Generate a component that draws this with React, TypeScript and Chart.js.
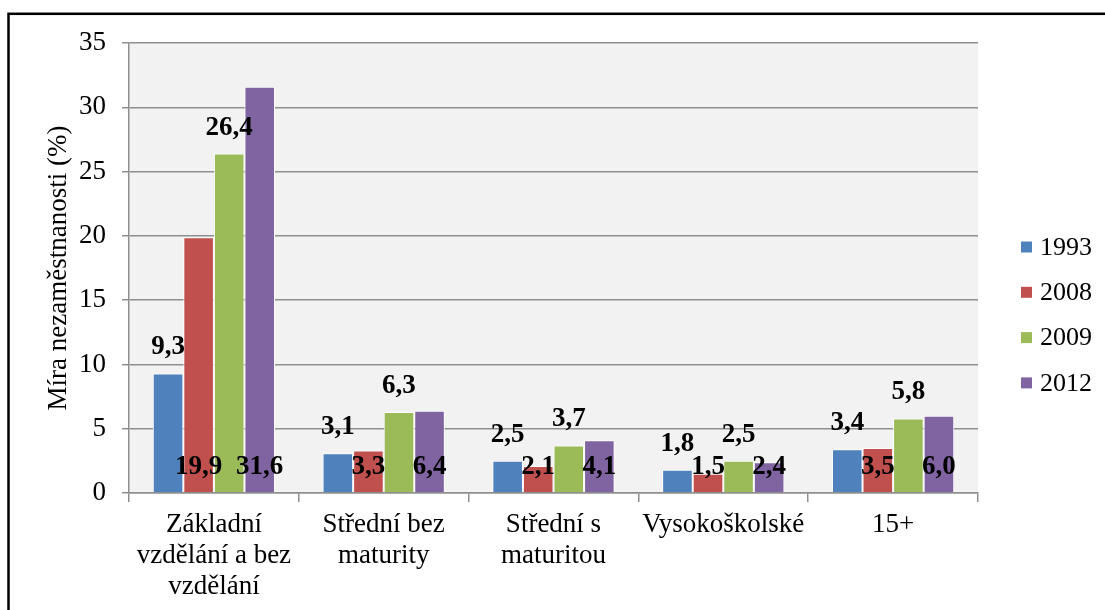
import React, { useEffect, useRef } from "react";
import { Chart, registerables } from "chart.js";

Chart.register(...registerables);

const categories: (string | string[])[] = [
  ["Základní", "vzdělání a bez", "vzdělání"],
  ["Střední bez", "maturity"],
  ["Střední s", "maturitou"],
  "Vysokoškolské",
  "15+",
];
const seriesNames = ["1993", "2008", "2009", "2012"];
const values1993 = [9.3, 3.1, 2.5, 1.8, 3.4];
const values2008 = [19.9, 3.3, 2.1, 1.5, 3.5];
const values2009 = [26.4, 6.3, 3.7, 2.5, 5.8];
const values2012 = [31.6, 6.4, 4.1, 2.4, 6.0];
const seriesColors = ["#4F81BD", "#C0504D", "#9BBB59", "#8064A2"];
const labelPlacement = ["end", "base", "end", "base"];
const yMin = 0;
const yMax = 35;
const yStep = 5;
const yTitle = "Míra nezaměstnanosti (%)";

const FONT = '"Liberation Serif", "Times New Roman", serif';
const GRID = "#8f8f8f";

const bgPlugin = {
  id: "bgPlugin",
  beforeDraw(chart: any) {
    const { ctx, chartArea } = chart;
    ctx.save();
    ctx.fillStyle = "#ffffff";
    ctx.fillRect(0, 0, chart.width, chart.height);
    ctx.strokeStyle = "#000000";
    ctx.lineWidth = 2.5;
    ctx.strokeRect(8.5, 13.8, 1300, 800);
    ctx.fillStyle = "#F2F2F2";
    ctx.fillRect(chartArea.left, chartArea.top, chartArea.right - chartArea.left, chartArea.bottom - chartArea.top);
    ctx.restore();
  },
};

const labelPlugin = {
  id: "labelPlugin",
  afterDatasetsDraw(chart: any) {
    const { ctx } = chart;
    ctx.save();
    ctx.font = `bold 27px ${FONT}`;
    ctx.fillStyle = "#000000";
    ctx.textAlign = "center";
    ctx.textBaseline = "middle";
    chart.data.datasets.forEach((ds: any, i: number) => {
      const meta = chart.getDatasetMeta(i);
      meta.data.forEach((el: any, j: number) => {
        const v = ds.data[j] as number;
        const text = v.toFixed(1).replace(".", ",");
        const y = labelPlacement[i] === "end" ? el.y - 26 : el.base - 25;
        ctx.fillText(text, el.x, y);
      });
    });
    ctx.restore();
  },
};

const legendPlugin = {
  id: "legendPlugin",
  afterDraw(chart: any) {
    const { ctx } = chart;
    ctx.save();
    ctx.font = `26px ${FONT}`;
    ctx.textAlign = "left";
    ctx.textBaseline = "middle";
    chart.data.datasets.forEach((ds: any, i: number) => {
      const cy = 247 + i * 45.3;
      ctx.fillStyle = ds.backgroundColor;
      ctx.fillRect(1021, cy - 5.5, 11, 11);
      ctx.fillStyle = "#000000";
      ctx.fillText(ds.label, 1040, cy + 1);
    });
    ctx.restore();
  },
};

export default function App() {
  const ref = useRef<HTMLCanvasElement | null>(null);
  useEffect(() => {
    if (!ref.current) return;
    const allValues = [values1993, values2008, values2009, values2012];
    const chart = new Chart(ref.current, {
      type: "bar",
      data: {
        labels: categories as any,
        datasets: seriesNames.map((name, i) => ({
          label: name,
          data: allValues[i],
          backgroundColor: seriesColors[i],
          borderColor: "#ffffff",
          borderWidth: 1,
          categoryPercentage: 0.72,
          barPercentage: 1,
        })),
      },
      options: {
        responsive: false,
        animation: false,
        events: [],
        layout: { padding: { top: 43, right: 127, bottom: 0, left: 0 } },
        plugins: {
          legend: { display: false },
          tooltip: { enabled: false },
        },
        scales: {
          x: {
            grid: {
              display: true,
              drawOnChartArea: false,
              drawTicks: true,
              tickLength: 9,
              color: GRID,
              lineWidth: 1.5,
            },
            border: { color: GRID, width: 1.5 },
            ticks: {
              color: "#000000",
              font: { family: FONT, size: 27, lineHeight: 1.15 },
              padding: 7,
              maxRotation: 0,
              autoSkip: false,
            },
            afterFit(scale: any) {
              scale.height = 117;
            },
          },
          y: {
            min: yMin,
            max: yMax,
            ticks: {
              stepSize: yStep,
              color: "#000000",
              font: { family: FONT, size: 27 },
              padding: 16,
            },
            grid: {
              color: GRID,
              lineWidth: 1.5,
              tickLength: 7,
            },
            border: { color: GRID, width: 1.5 },
            title: {
              display: true,
              text: yTitle,
              color: "#000000",
              font: { family: FONT, size: 27 },
              padding: { top: 43, bottom: 0 },
            },
            afterFit(scale: any) {
              scale.width = 129;
            },
          },
        },
      },
      plugins: [bgPlugin, labelPlugin, legendPlugin],
    });
    return () => chart.destroy();
  }, []);
  return (
    <div style={{ position: "fixed", left: 0, top: 0, width: 1105, height: 610 }}>
      <canvas ref={ref} width={1105} height={610} style={{ display: "block" }} />
    </div>
  );
}
